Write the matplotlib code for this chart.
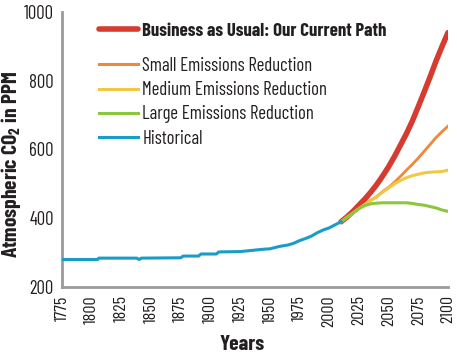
import matplotlib
matplotlib.use("Agg")
import matplotlib.pyplot as plt
from matplotlib.lines import Line2D

FONT = "Barlow Condensed"
plt.rcParams['font.family'] = [FONT, 'DejaVu Sans']
plt.rcParams['mathtext.default'] = 'regular'
TXT = "#231F20"

# ---- data ----
hist_years = [1775, 1805, 1806, 1838, 1840, 1842, 1875, 1877, 1890, 1892, 1905, 1907, 1925, 1945,
              1950, 1958, 1965, 1970, 1975, 1980, 1985, 1990, 1995, 2000, 2005, 2010]
hist_vals = [280, 280, 284, 284, 280, 284, 285, 290, 290, 296, 296, 302, 303, 310,
             311, 318, 322, 327, 335, 341, 348, 358, 366, 372, 381, 390]

scen_years = [2010, 2015, 2020, 2025, 2030, 2035, 2040, 2045, 2050, 2055, 2060, 2065, 2070,
              2075, 2080, 2085, 2090, 2095, 2100]
bau_vals = [390, 404, 420, 438, 456, 476, 498, 523, 550, 580, 613, 646, 683,
            725, 768, 812, 858, 900, 940]
small_vals = [390, 403, 415, 428, 440, 452, 463, 478, 490, 505, 522, 540, 557,
              575, 595, 615, 635, 652, 668]
medium_vals = [390, 403, 415, 428, 440, 452, 462, 476, 488, 500, 510, 518, 524,
               528, 532, 534, 535, 536, 540]
large_vals = [390, 403, 415, 428, 437, 442, 444, 445, 445, 445, 445, 445, 443,
              440, 438, 434, 430, 424, 420]

labels = ["Business as Usual: Our Current Path", "Small Emissions Reduction",
          "Medium Emissions Reduction", "Large Emissions Reduction", "Historical"]
colors = ["#D63B2F", "#F0883A", "#F2C744", "#8CC63F", "#1A9CC9"]

x_ticks = list(range(1775, 2101, 25))
y_ticks = [200, 400, 600, 800, 1000]

W, H = 457, 356
fig = plt.figure(figsize=(W/100, H/100), dpi=100)
ax = fig.add_axes([62/W, 1-287/H, (448-62)/W, (287-12)/H])

ax.plot(scen_years, bau_vals, color=colors[0], lw=4.0, solid_capstyle='round', zorder=2)
ax.plot(scen_years, small_vals, color=colors[1], lw=2.0, zorder=3)
ax.plot(scen_years, medium_vals, color=colors[2], lw=2.2, zorder=4)
ax.plot(scen_years, large_vals, color=colors[3], lw=2.2, zorder=5)
ax.plot(hist_years, hist_vals, color=colors[4], lw=2.2, zorder=6)

ax.set_xlim(1775, 2100)
ax.set_ylim(200, 1000)
ax.set_xticks(x_ticks)
ax.set_xticklabels([str(t) for t in x_ticks], rotation=90, fontsize=13)
ax.set_yticks(y_ticks)
ax.set_yticklabels([str(t) for t in y_ticks], fontsize=13.5)
ax.tick_params(length=0, pad=6, colors=TXT)
for s in ["top", "right"]:
    ax.spines[s].set_visible(False)
for s in ["left", "bottom"]:
    ax.spines[s].set_color("#9a9a9a")
    ax.spines[s].set_linewidth(2)

def px(x, y):
    return (x / W, 1 - y / H)

fig.text(*px(242, 345), "Years", fontsize=15.5, fontweight='bold', color=TXT,
         ha='center', va='center')
fig.text(*px(11, 165), "Atmospheric CO$_{2}$ in PPM", fontsize=15.5, fontweight='bold',
         color=TXT, rotation=90, ha='center', va='center')

h1 = [Line2D([], [], color=colors[0], lw=4.0, solid_capstyle='round')]
leg1 = fig.legend(h1, labels[:1], loc='center left', bbox_to_anchor=px(99, 31), frameon=False,
                  handlelength=2.1, handletextpad=0.2, borderpad=0, borderaxespad=0,
                  prop={'weight': 'bold', 'size': 13.5}, labelcolor=TXT)
h2 = [Line2D([], [], color=c, lw=2.2) for c in colors[1:]]
leg2 = fig.legend(h2, labels[1:], loc='upper left', bbox_to_anchor=px(99, 57), frameon=False,
                  handlelength=2.1, handletextpad=0.2, labelspacing=0.33, borderpad=0,
                  borderaxespad=0, prop={'size': 13.5}, labelcolor=TXT)

fig.savefig("out.png", dpi=100)
